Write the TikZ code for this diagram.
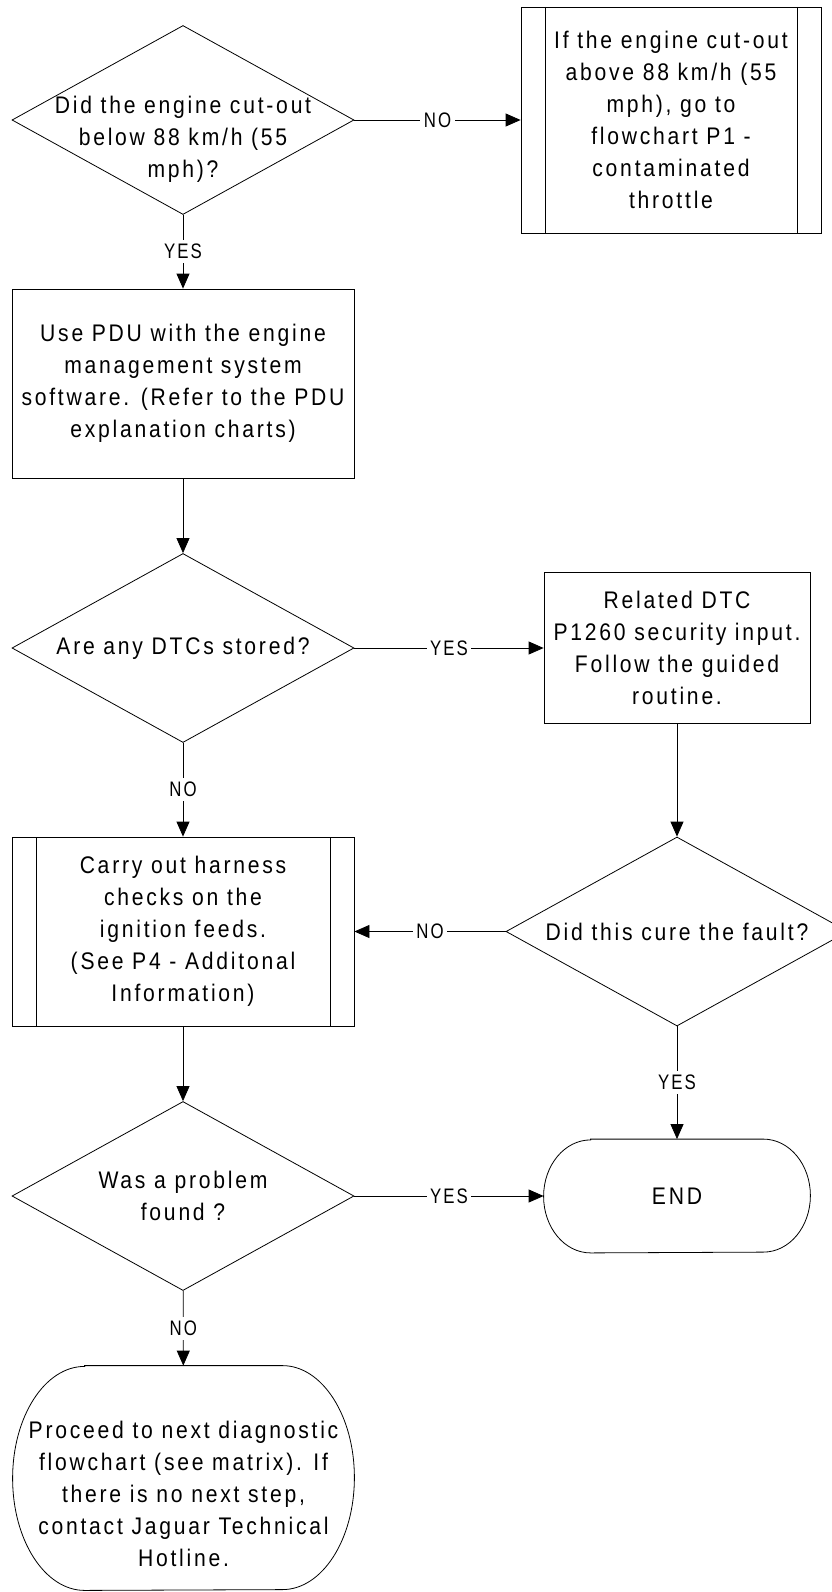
\documentclass[tikz,border=0pt]{standalone}
\usepackage{fontspec}
\setmainfont{Liberation Sans}[FakeStretch=0.88,LetterSpace=11.5]
\newfontfamily\lblfont{Liberation Sans}[FakeStretch=0.8,LetterSpace=10]
\usetikzlibrary{shapes.geometric,arrows.meta,positioning}

\begin{document}
\begin{tikzpicture}[x=1pt,y=-1pt,line width=0.8pt,
  font=\fontsize{24}{32}\selectfont,
  decision/.style={draw,diamond,minimum width=342pt,minimum height=189pt,inner sep=0pt},
  process/.style={draw,rectangle,align=center,inner sep=0pt},
  bars/.style={path picture={
    \draw ([xshift=24pt]path picture bounding box.north west) -- ([xshift=24pt]path picture bounding box.south west)
          ([xshift=-24pt]path picture bounding box.north east) -- ([xshift=-24pt]path picture bounding box.south east);}},
  term/.style={rectangle,align=center,inner sep=0pt},
  arr/.style={-{Triangle[length=15pt,width=13pt]}},
  lbl/.style={fill=white,inner xsep=3.5pt,inner ysep=4pt,font=\lblfont\fontsize{21}{26}\selectfont}]
  \useasboundingbox (0,0) rectangle (831,1592);
  \node[decision,label={[align=center,yshift=-19pt]center:{Did the engine cut-out\\below 88 km/h (55\\mph)?}}] (d1) at (183,120) {};
  \node[process,bars,minimum width=300pt,minimum height=226pt] (p1) at (671,120) {If the engine cut-out\\above 88 km/h (55\\mph), go to\\flowchart P1 -\\contaminated\\throttle};
  \node[process,minimum width=342pt,minimum height=189pt] (b2) at (183,383.5) {Use PDU with the engine\\management system\\software. (Refer to the PDU\\explanation charts)};
  \node[decision,label={center:Are any DTCs stored?}] (d2) at (183,648) {};
  \node[process,minimum width=266pt,minimum height=151pt] (b3) at (677,648) {Related DTC\\P1260 security input.\\Follow the guided\\routine.};
  \node[process,bars,minimum width=342pt,minimum height=189pt] (h) at (183,931.5) {Carry out harness\\checks on the\\ignition feeds.\\(See P4 - Additonal\\Information)};
  \node[decision,label={center:Did this cure the fault?}] (d3) at (677,931.5) {};
  \node[decision,label={[align=center]center:{Was a problem\\found ?}}] (d4) at (183,1196) {};
  \node[term,minimum width=266pt,minimum height=113pt] (e) at (677,1196) {END};
  \node[term,minimum width=341pt,minimum height=224pt,label={[align=center,yshift=-16pt]center:{Proceed to next diagnostic\\flowchart (see matrix). If\\there is no next step,\\contact Jaguar Technical\\Hotline.}}] (f) at (183.5,1478) {};
  % terminal outlines
  \draw ([xshift=47pt]e.north west) -- ([xshift=-47pt]e.north east) arc[start angle=90,end angle=-90,x radius=47pt,y radius=56.5pt]
    -- ([xshift=47pt]e.south west) arc[start angle=270,end angle=90,x radius=47pt,y radius=56.5pt] -- cycle;
  \draw ([xshift=72pt]f.north west) -- ([xshift=-72pt]f.north east) arc[start angle=90,end angle=-90,x radius=72pt,y radius=112pt]
    -- ([xshift=72pt]f.south west) arc[start angle=270,end angle=90,x radius=72pt,y radius=112pt] -- cycle;
  % connectors
  \draw[arr] (d1) -- node[lbl] {NO} (p1);
  \draw[arr] (d1) -- node[lbl] {YES} (b2);
  \draw[arr] (b2) -- (d2);
  \draw[arr] (d2) -- node[lbl] {YES} (b3);
  \draw[arr] (d2) -- node[lbl] {NO} (h);
  \draw[arr] (b3) -- (d3);
  \draw[arr] (d3) -- node[lbl] {NO} (h);
  \draw[arr] (d3) -- node[lbl] {YES} (e);
  \draw[arr] (h) -- (d4);
  \draw[arr] (d4) -- node[lbl] {YES} (e);
  \draw[arr] (d4) -- node[lbl] {NO} (f);
\end{tikzpicture}
\end{document}
